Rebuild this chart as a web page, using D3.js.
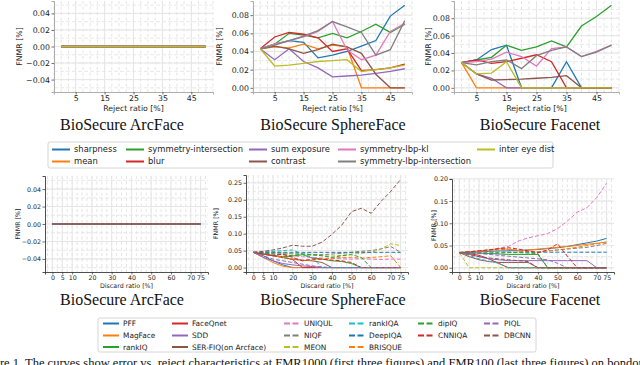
<!DOCTYPE html>
<html><head><meta charset="utf-8">
<script src="https://cdn.jsdelivr.net/npm/d3@7"></script>
<style>body{margin:0;background:#fff;}svg{display:block;}</style>
</head><body>
<script>
// ---------------- DATA ----------------
const rejectX = [0,5,10,15,20,25,30,35,40,45,50];
const discardX = [0,5,10,15,20,25,30,35,40,45,50,55,60,65,70,75];
const topNames = ["sharpness","mean","symmetry-intersection","blur","sum exposure","contrast","symmetry-lbp-kl","symmetry-lbp-intersection","inter eye dist"];
const bottomNames = ["PFF","MagFace","rankIQ","FaceQnet","SDD","SER-FIQ(on Arcface)","UNIQUL","NIQF","MEON","rankIQA","DeepIQA","BRISQUE","dipIQ","CNNIQA","PIQL","DBCNN"];
const bottomDashed = [false,false,false,false,false,false,true,true,true,true,true,true,true,true,true,true];
const palette = ["#1f77b4","#ff7f0e","#2ca02c","#d62728","#9467bd","#8c564b","#e377c2","#7f7f7f","#bcbd22","#17becf"];

// FMR1000 – ArcFace: every measure stays at 0
const arcFMR1000 = [0,0,0,0,0,0,0,0,0,0,0];
// FMR1000 – SphereFace (order of topNames)
const sphereFMR1000 = [
  [0.043,0.048,0.052,0.050,0.033,0.036,0.040,0.046,0.052,0.079,0.091],
  [0.043,0.045,0.044,0.048,0.043,0.047,0.045,0.000,0.000,0.000,0.000],
  [0.043,0.048,0.060,0.058,0.055,0.060,0.055,0.062,0.070,0.061,0.070],
  [0.043,0.056,0.061,0.059,0.055,0.040,0.043,0.019,0.020,0.022,0.026],
  [0.043,0.031,0.043,0.029,0.022,0.012,0.013,0.014,0.016,0.018,0.021],
  [0.043,0.046,0.043,0.038,0.042,0.048,0.045,0.038,0.015,0.000,0.000],
  [0.043,0.048,0.052,0.056,0.062,0.073,0.042,0.031,0.036,0.062,0.071],
  [0.043,0.047,0.052,0.057,0.063,0.073,0.067,0.061,0.036,0.042,0.074],
  [0.043,0.024,0.025,0.027,0.029,0.030,0.031,0.018,0.020,0.022,0.025]
];
// FMR1000 – Facenet
const facenetFMR1000 = [
  [0.029,0.032,0.044,0.049,0.000,0.000,0.000,0.030,0.000,0.000,0.000],
  [0.029,0.000,0.000,0.000,0.000,0.000,0.000,0.000,0.000,0.000,0.000],
  [0.029,0.032,0.035,0.049,0.043,0.047,0.054,0.047,0.071,0.082,0.095],
  [0.029,0.032,0.028,0.030,0.034,0.038,0.030,0.000,0.000,0.000,0.000],
  [0.029,0.016,0.011,0.000,0.000,0.000,0.000,0.000,0.000,0.000,0.000],
  [0.029,0.016,0.009,0.0095,0.010,0.011,0.012,0.014,0.000,0.000,0.000],
  [0.029,0.030,0.033,0.041,0.036,0.025,0.045,0.047,0.036,0.042,0.049],
  [0.029,0.0265,0.030,0.032,0.022,0.037,0.043,0.047,0.036,0.041,0.049],
  [0.029,0.016,0.017,0.030,0.000,0.000,0.000,0.000,0.000,0.000,0.000]
];
// FMR100 – ArcFace: every method stays at 0
const arcFMR100 = [0,0,0,0,0,0,0,0,0,0,0,0,0,0,0,0];
// FMR100 – SphereFace (order of bottomNames)
const sphereFMR100 = [
  [0.045,0.035,0.020,0.008,0.000,0,0,0,0,0,0,0,0,0,0,0],
  [0.045,0.030,0.015,0.004,0.000,0,0,0,0,0,0,0,0,0,0,0],
  [0.045,0.040,0.036,0.032,0.034,0.038,0.028,0.025,0.020,0.018,0.012,0,0,0,0,0],
  [0.045,0.040,0.035,0.030,0.024,0.000,0,0,0,0,0,0,0,0,0,0],
  [0.045,0.030,0.020,0.012,0.008,0.005,0.003,0.000,0,0,0,0,0,0,0,0],
  [0.045,0.040,0.035,0.030,0.025,0.022,0.020,0.015,0.000,0,0,0,0,0,0,0],
  [0.045,0.043,0.040,0.038,0.035,0.032,0.030,0.028,0.027,0.026,0.025,0.026,0.025,0.024,0.025,0.025],
  [0.045,0.044,0.043,0.042,0.041,0.040,0.039,0.038,0.040,0.042,0.045,0.048,0.050,0.055,0.062,0.045],
  [0.045,0.046,0.045,0.043,0.040,0.038,0.036,0.035,0.034,0.036,0.040,0.042,0.045,0.055,0.070,0.065],
  [0.045,0.046,0.048,0.050,0.052,0.040,0.030,0.000,0,0,0,0,0,0,0,0],
  [0.045,0.045,0.045,0.045,0.045,0.045,0.045,0.045,0.045,0.045,0.045,0.045,0.045,0.045,0.045,0.045],
  [0.045,0.040,0.035,0.030,0.025,0.020,0.022,0.025,0.028,0.030,0.030,0.028,0.030,0.032,0.035,0.000],
  [0.045,0.042,0.040,0.038,0.035,0.040,0.038,0.035,0.030,0.035,0.038,0.030,0.000,0,0,0],
  [0.045,0.040,0.035,0.040,0.030,0.020,0.025,0.025,0.022,0.020,0.015,0.000,0,0,0,0],
  [0.045,0.035,0.025,0.020,0.015,0.010,0.005,0.002,0.000,0,0,0,0,0,0,0],
  [0.045,0.048,0.052,0.058,0.066,0.063,0.063,0.075,0.098,0.125,0.165,0.175,0.160,0.195,0.225,0.260]
];
// FMR100 – Facenet
const facenetFMR100 = [
  [0.034,0.035,0.036,0.037,0.038,0.038,0.039,0.040,0.041,0.043,0.045,0.048,0.052,0.056,0.060,0.066],
  [0.034,0.036,0.038,0.040,0.043,0.042,0.038,0.040,0.042,0.044,0.046,0.048,0.050,0.053,0.055,0.058],
  [0.034,0.034,0.033,0.032,0.031,0.030,0.030,0.030,0.030,0.000,0,0,0,0,0,0],
  [0.034,0.032,0.028,0.020,0.010,0.000,0,0,0,0,0,0,0,0,0,0],
  [0.034,0.030,0.025,0.020,0.018,0.016,0.016,0.016,0.016,0.016,0.016,0.016,0.016,0.016,0.000,0.000],
  [0.034,0.025,0.018,0.014,0.012,0.012,0.012,0.012,0.000,0,0,0,0,0,0,0],
  [0.034,0.035,0.037,0.040,0.044,0.048,0.060,0.067,0.072,0.077,0.088,0.105,0.125,0.135,0.158,0.190],
  [0.034,0.036,0.038,0.040,0.042,0.040,0.038,0.036,0.035,0.038,0.040,0.042,0.044,0.046,0.050,0.055],
  [0.034,0.000,0,0,0,0,0,0,0,0,0,0,0,0,0,0],
  [0.034,0.028,0.020,0.015,0.010,0.000,0,0,0,0,0,0,0,0,0,0],
  [0.035,0.035,0.035,0.035,0.035,0.035,0.035,0.035,0.035,0.035,0.035,0.035,0.035,0.035,0.035,0.035],
  [0.034,0.030,0.036,0.038,0.040,0.041,0.040,0.038,0.036,0.038,0.040,0.043,0.046,0.050,0.054,0.058],
  [0.034,0.033,0.032,0.032,0.033,0.034,0.034,0.033,0.032,0.000,0,0,0,0,0,0],
  [0.034,0.036,0.038,0.040,0.043,0.045,0.042,0.038,0.034,0.040,0.054,0.026,0.000,0,0,0],
  [0.034,0.033,0.032,0.030,0.028,0.026,0.024,0.022,0.020,0.018,0.010,0.000,0,0,0,0],
  [0.034,0.030,0.025,0.022,0.020,0.018,0.016,0.014,0.000,0,0,0,0,0,0,0]
];
const topXTicks = [5,15,25,35,45];
const bottomXTicks = [0,5,10,20,30,40,50,60,70,75];
const titles = ["BioSecure ArcFace","BioSecure SphereFace","BioSecure Facenet"];
const caption = "Figure 1. The curves show error vs. reject characteristics at FMR1000 (first three figures) and FMR100 (last three figures) on bondonf";

// ---------------- DRAW ----------------
const W = 640, H = 365;
const svg = d3.select("body").append("svg").attr("width", W).attr("height", H);
const SANS = "DejaVu Sans, sans-serif";
const SERIF = "Liberation Serif, Times New Roman, serif";

function fmt(v, d) {
  const s = Math.abs(v).toFixed(d);
  return (v < -1e-9 ? "\u2212" : "") + s;
}

function panel(o) {
  const g = svg.append("g");
  const x = d3.scaleLinear().domain(o.xDom).range([o.l, o.r]);
  const y = d3.scaleLinear().domain(o.yDom).range([o.b, o.t]);
  // grid
  const gridG = g.append("g");
  const xStart = Math.ceil(o.xDom[0] / o.xMinor) * o.xMinor;
  d3.range(xStart, o.xDom[1] + 1e-9, o.xMinor).forEach(v => {
    gridG.append("line").attr("x1", x(v)).attr("x2", x(v)).attr("y1", o.t).attr("y2", o.b)
      .attr("stroke", "#dedede").attr("stroke-width", 0.8).attr("stroke-dasharray", "3,2.5");
  });
  const yStart = Math.ceil(o.yDom[0] / o.yMinor) * o.yMinor;
  d3.range(yStart, o.yDom[1] + 1e-9, o.yMinor).forEach(v => {
    gridG.append("line").attr("x1", o.l).attr("x2", o.r).attr("y1", y(v)).attr("y2", y(v))
      .attr("stroke", "#e2e2e2").attr("stroke-width", 0.8).attr("stroke-dasharray", "4,2");
  });
  o.yTicks.forEach(v => {
    gridG.append("line").attr("x1", o.l).attr("x2", o.r).attr("y1", y(v)).attr("y2", y(v))
      .attr("stroke", "#e6e6e6").attr("stroke-width", 1);
  });
  o.xTicks.forEach(v => {
    gridG.append("line").attr("x1", x(v)).attr("x2", x(v)).attr("y1", o.t).attr("y2", o.b)
      .attr("stroke", "#e6e6e6").attr("stroke-width", 1);
  });
  // series
  const line = d3.line().x(d => x(d[0])).y(d => y(d[1]));
  o.series.forEach((s, i) => {
    g.append("path").datum(o.xs.map((xv, k) => [xv, s.values[k]]))
      .attr("d", line).attr("fill", "none").attr("stroke", s.color)
      .attr("stroke-width", o.lw).attr("stroke-dasharray", s.dashed ? "4,2" : null);
  });
  // axes
  const ax = g.append("g").attr("transform", `translate(0,${o.b})`)
    .call(d3.axisBottom(x).tickValues(o.xTicks).tickSize(2.5).tickPadding(1).tickFormat(d3.format("d")));
  const ay = g.append("g").attr("transform", `translate(${o.l},0)`)
    .call(d3.axisLeft(y).tickValues(o.yTicks).tickSize(2.5).tickPadding(1.5).tickFormat(v => fmt(v, 2)));
  [ax, ay].forEach(a => {
    a.selectAll("text").attr("font-family", SANS).attr("font-size", o.fs).attr("fill", "#222");
    a.selectAll(".tick line").attr("stroke", "#333").attr("stroke-width", 0.7);
  });
  ax.select(".domain").attr("stroke", o.spine).attr("stroke-width", 0.8);
  ay.select(".domain").attr("stroke", o.spine).attr("stroke-width", 0.8);
  // labels
  g.append("text").attr("x", (o.l + o.r) / 2).attr("y", o.xlY).attr("text-anchor", "middle")
    .attr("font-family", SANS).attr("font-size", o.fs).attr("fill", "#222").text(o.xlabel);
  g.append("text").attr("transform", `translate(${o.ylX},${(o.t + o.b) / 2}) rotate(-90)`)
    .attr("text-anchor", "middle").attr("font-family", SANS).attr("font-size", o.fs)
    .attr("fill", "#222").text("FNMR [%]");
  g.append("text").attr("x", o.titleX).attr("y", o.titleY).attr("text-anchor", "middle")
    .attr("font-family", SERIF).attr("font-size", 16).attr("fill", "#111").text(o.title);
}

const topSeries = data => topNames.map((n, i) => ({ name: n, color: palette[i], values: data[i], dashed: false }));
const botSeries = data => bottomNames.map((n, i) => ({ name: n, color: palette[i % 10], values: data[i], dashed: bottomDashed[i] }));

const topCommon = { t: 1, b: 92, xDom: [-2.5, 52.5], xs: rejectX, xTicks: topXTicks, xMinor: 2.5,
  fs: 7.8, lw: 1.3, xlabel: "Reject ratio [%]", xlY: 111, titleY: 130, spine: "#999" };
panel(Object.assign({}, topCommon, { l: 54, r: 213, yDom: [-0.055, 0.055], yTicks: [-0.04,-0.02,0,0.02,0.04], yMinor: 0.01,
  series: topNames.map((n, i) => ({ color: palette[i], values: arcFMR1000 })), ylX: 22, titleX: 122, title: titles[0] }));
panel(Object.assign({}, topCommon, { l: 253, r: 412, yDom: [-0.0046, 0.0956], yTicks: [0,0.02,0.04,0.06,0.08], yMinor: 0.01,
  series: topSeries(sphereFMR1000), ylX: 222, titleX: 333, title: titles[1] }));
panel(Object.assign({}, topCommon, { l: 454, r: 619, yDom: [-0.0048, 0.0998], yTicks: [0,0.02,0.04,0.06,0.08], yMinor: 0.01,
  series: topSeries(facenetFMR1000), ylX: 431, titleX: 540, title: titles[2] }));

const botCommon = { t: 176, b: 272, xDom: [-3.75, 78.75], xs: discardX, xTicks: bottomXTicks, xMinor: 2.5,
  fs: 6.3, lw: 1, xlabel: "Discard ratio [%]", xlY: 288, titleY: 305, spine: "#222" };
panel(Object.assign({}, botCommon, { l: 45, r: 208, yDom: [-0.055, 0.055], yTicks: [-0.04,-0.02,0,0.02,0.04], yMinor: 0.01,
  series: bottomNames.map((n, i) => ({ color: palette[i % 10], values: arcFMR100, dashed: bottomDashed[i] })), ylX: 20, titleX: 122, title: titles[0] }));
panel(Object.assign({}, botCommon, { l: 246, r: 408, t: 175, yDom: [-0.013, 0.273], yTicks: [0,0.05,0.10,0.15,0.20,0.25], yMinor: 0.025,
  series: botSeries(sphereFMR100), ylX: 218, titleX: 333, title: titles[1] }));
panel(Object.assign({}, botCommon, { l: 452, r: 614, t: 179, yDom: [-0.0095, 0.1995], yTicks: [0,0.05,0.10,0.15,0.20], yMinor: 0.025,
  series: botSeries(facenetFMR100), ylX: 436, titleX: 540, title: titles[2] }));

// ---------------- LEGENDS ----------------
function legend(o) {
  const g = svg.append("g");
  g.append("rect").attr("x", o.x).attr("y", o.y).attr("width", o.w).attr("height", o.h)
    .attr("fill", "#fff").attr("stroke", "#ccc").attr("stroke-width", 0.8).attr("rx", 2);
  o.items.forEach((it, i) => {
    const cx = o.cols[o.colOf(i)], cy = o.rowY[o.rowOf(i)];
    g.append("line").attr("x1", cx).attr("x2", cx + o.hl).attr("y1", cy).attr("y2", cy)
      .attr("stroke", it.color).attr("stroke-width", 2).attr("stroke-dasharray", it.dashed ? "6,2.5" : null);
    g.append("text").attr("x", cx + o.hl + 4).attr("y", cy).attr("dy", "0.35em")
      .attr("font-family", SANS).attr("font-size", o.fs).attr("fill", "#222").text(it.name);
  });
}
legend({ x: 48, y: 142, w: 505, h: 26, fs: 8.4, hl: 18,
  cols: [52, 126, 249, 338, 477], rowY: [149.5, 161.5],
  colOf: i => Math.floor(i / 2), rowOf: i => i % 2,
  items: topNames.map((n, i) => ({ name: n, color: palette[i], dashed: false })) });

const botCol = [0,0,0,1,1,1,2,2,2,3,3,3,4,4,5,5];
const botRow = [0,1,2,0,1,2,0,1,2,0,1,2,0,1,0,1];
legend({ x: 98, y: 318, w: 438, h: 34, fs: 7.4, hl: 16,
  cols: [103, 172, 284, 349, 418, 484], rowY: [323.5, 335.5, 347],
  colOf: i => botCol[i], rowOf: i => botRow[i],
  items: bottomNames.map((n, i) => ({ name: n, color: palette[i % 10], dashed: bottomDashed[i] })) });

// caption (cut at bottom edge, as in the reference)
svg.append("text").attr("x", -23).attr("y", 367).attr("font-family", SERIF).attr("font-size", 12.5)
  .attr("fill", "#111").text(caption);
</script>
</body></html>
